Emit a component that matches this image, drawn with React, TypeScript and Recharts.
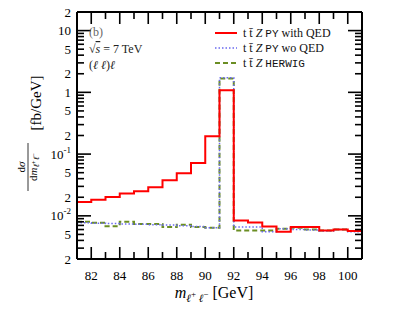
import { LineChart, Line, XAxis, YAxis } from "recharts";

// bin low edges in GeV (1 GeV wide bins, last bin ends at 101)
const binEdges = [81, 82, 83, 84, 85, 86, 87, 88, 89, 90, 91, 92, 93, 94, 95, 96, 97, 98, 99, 100];
const lastEdge = 101;

// d sigma / d m [fb/GeV]
const pyWithQed = [0.0168, 0.0183, 0.0202, 0.0229, 0.025, 0.029, 0.0376, 0.0488, 0.0715, 0.195, 1.08, 0.0084, 0.0078, 0.0067, 0.0055, 0.0066, 0.0066, 0.0058, 0.006, 0.0057];
const pyWoQed = [0.0077, 0.0076, 0.0075, 0.0074, 0.0073, 0.0072, 0.0071, 0.0069, 0.0067, 0.0064, 1.72, 0.0066, 0.0066, 0.0055, 0.0062, 0.006, 0.0059, 0.0057, 0.006, 0.0055];
const herwig = [0.008, 0.0077, 0.0068, 0.008, 0.0074, 0.0074, 0.0066, 0.0072, 0.0066, 0.0064, 1.68, 0.0058, 0.0058, 0.0058, 0.0062, 0.0064, 0.006, 0.0058, 0.006, 0.0057];

const xTicks = [81, 82, 83, 84, 85, 86, 87, 88, 89, 90, 91, 92, 93, 94, 95, 96, 97, 98, 99, 100, 101];
const xLabelTicks = [82, 84, 86, 88, 90, 92, 94, 96, 98, 100];

const yTicks = [
  0.002, 0.003, 0.004, 0.005, 0.006, 0.007, 0.008, 0.009,
  0.01, 0.02, 0.03, 0.04, 0.05, 0.06, 0.07, 0.08, 0.09,
  0.1, 0.2, 0.3, 0.4, 0.5, 0.6, 0.7, 0.8, 0.9,
  1, 2, 3, 4, 5, 6, 7, 8, 9, 10, 20,
];
const yDecades = [0.01, 0.1, 1, 10];
const yLabelValues = [0.002, 0.005, 0.01, 0.02, 0.05, 0.1, 0.2, 0.5, 1, 2, 5, 10, 20];
const yLabelBase = ["2", "5", "10", "2", "5", "10", "2", "5", "1", "2", "5", "10", "2"];
const yLabelExp = ["", "", "-2", "", "", "-1", "", "", "", "", "", "", ""];

const W = 409;
const H = 309;
const serif = "'Liberation Serif', 'Times New Roman', Times, serif";
const mono = "'Liberation Mono', 'DejaVu Sans Mono', monospace";

const data = binEdges
  .map((m, i) => ({ m, withQed: pyWithQed[i], woQed: pyWoQed[i], hw: herwig[i] }))
  .concat([{
    m: lastEdge,
    withQed: pyWithQed[pyWithQed.length - 1],
    woQed: pyWoQed[pyWoQed.length - 1],
    hw: herwig[herwig.length - 1],
  }]);

const near = (a: number, b: number) => Math.abs(a - b) / b < 1e-6;

function XTick(props: any) {
  const { x, y, payload, top } = props;
  const v = payload.value;
  const len = v % 2 === 0 ? 12 : 7;
  const dir = top ? 1 : -1;
  const labeled = !top && xLabelTicks.includes(v);
  return (
    <g>
      <line x1={x} y1={y} x2={x} y2={y + dir * len} stroke="#000" strokeWidth={1.6} />
      {labeled && (
        <text x={x} y={y + 21} textAnchor="middle" fontFamily={serif} fontSize={13} fill="#000">
          {v}
        </text>
      )}
    </g>
  );
}

function YTick(props: any) {
  const { x, y, payload, right } = props;
  const v = payload.value;
  const len = yDecades.some((d) => near(v, d)) ? 14 : 7;
  const dir = right ? -1 : 1;
  const li = yLabelValues.findIndex((d) => near(v, d));
  return (
    <g>
      <line x1={x} y1={y} x2={x + dir * len} y2={y} stroke="#000" strokeWidth={1.6} />
      {!right && li >= 0 && (
        <text x={x - 6} y={y + 4.5} textAnchor="end" fontFamily={serif} fontSize={13} fill="#000">
          {yLabelBase[li]}
          {yLabelExp[li] && (
            <tspan fontSize={9} dy={-6}>
              {yLabelExp[li]}
            </tspan>
          )}
        </text>
      )}
    </g>
  );
}

function Overlay() {
  return (
    <svg
      width={W}
      height={H}
      style={{ position: "absolute", left: 0, top: 0, pointerEvents: "none" }}
    >
      {/* top-left notes */}
      <text x={89} y={36} fontFamily={serif} fontSize={12} fill="#666">(b)</text>
      <text x={89} y={53} fontFamily={serif} fontSize={12} fill="#222">
        √<tspan fontStyle="italic" textDecoration="overline">s</tspan> = 7 TeV
      </text>
      <text x={89} y={69} fontFamily={serif} fontSize={12} fill="#222">
        (<tspan fontStyle="italic">ℓ ℓ</tspan>)<tspan fontStyle="italic">ℓ</tspan>
      </text>

      {/* legend */}
      <line x1={215} y1={33} x2={237} y2={33} stroke="#ff0000" strokeWidth={2} />
      <text x={243} y={37} fontFamily={serif} fontSize={12} fill="#111">
        t t̄ <tspan fontStyle="italic">Z</tspan> <tspan fontFamily={mono} fontSize={11}>PY</tspan> with QED
      </text>
      <line x1={215} y1={48} x2={237} y2={48} stroke="#6a6af0" strokeWidth={1.5} strokeDasharray="1.5 2" />
      <text x={243} y={52} fontFamily={serif} fontSize={12} fill="#111">
        t t̄ <tspan fontStyle="italic">Z</tspan> <tspan fontFamily={mono} fontSize={11}>PY</tspan> wo QED
      </text>
      <line x1={215} y1={63} x2={237} y2={63} stroke="#6b8e23" strokeWidth={2} strokeDasharray="5 3" />
      <text x={243} y={67} fontFamily={serif} fontSize={12} fill="#111">
        t t̄ <tspan fontStyle="italic">Z</tspan> <tspan fontFamily={mono} fontSize={11}>HERWIG</tspan>
      </text>

      {/* x title */}
      <text x={214} y={298} textAnchor="middle" fontFamily={serif} fontSize={16} fill="#000">
        <tspan fontStyle="italic">m</tspan>
        <tspan fontSize={11} dy={4} fontStyle="italic">ℓ</tspan>
        <tspan fontSize={9} dy={-5}>+</tspan>
        <tspan fontSize={11} dy={5} fontStyle="italic"> ℓ</tspan>
        <tspan fontSize={9} dy={-5}>−</tspan>
        <tspan dy={1}> [GeV]</tspan>
      </text>

      {/* y title */}
      <g transform="translate(28,167) rotate(-90)">
        <line x1={-24} y1={0} x2={24} y2={0} stroke="#000" strokeWidth={0.8} />
        <text x={0} y={-3} textAnchor="middle" fontFamily={serif} fontSize={11} fill="#000">
          d<tspan fontStyle="italic">σ</tspan>
        </text>
        <text x={0} y={9} textAnchor="middle" fontFamily={serif} fontSize={11} fill="#000">
          d<tspan fontStyle="italic">m</tspan>
          <tspan fontSize={8} dy={2} fontStyle="italic">ℓ</tspan>
          <tspan fontSize={7} dy={-3}>+</tspan>
          <tspan fontSize={8} dy={3} fontStyle="italic">ℓ</tspan>
          <tspan fontSize={7} dy={-3}>−</tspan>
        </text>
      </g>
      <text
        x={0}
        y={0}
        transform="translate(41,103) rotate(-90)"
        textAnchor="middle"
        fontFamily={serif}
        fontSize={15}
        fill="#000"
      >
        [fb/GeV]
      </text>
    </svg>
  );
}

export default function App() {
  return (
    <div style={{ position: "absolute", left: 0, top: 0, width: W, height: H, background: "#fff" }}>
      <LineChart width={W} height={H} data={data} margin={{ top: 0, right: 0, bottom: 0, left: 0 }}>
        <XAxis
          xAxisId="bottom"
          dataKey="m"
          type="number"
          domain={[81, 101]}
          allowDataOverflow
          ticks={xTicks}
          interval={0}
          height={50}
          tickSize={0}
          tickMargin={0}
          axisLine={{ stroke: "#000", strokeWidth: 2 }}
          tickLine={false}
          tick={(p: any) => <XTick {...p} />}
        />
        <XAxis
          xAxisId="top"
          orientation="top"
          dataKey="m"
          type="number"
          domain={[81, 101]}
          allowDataOverflow
          ticks={xTicks}
          interval={0}
          height={12}
          tickSize={0}
          tickMargin={0}
          axisLine={{ stroke: "#000", strokeWidth: 2 }}
          tickLine={false}
          tick={(p: any) => <XTick {...p} top />}
        />
        <YAxis
          yAxisId="left"
          type="number"
          scale="log"
          domain={[0.002, 20]}
          allowDataOverflow
          ticks={yTicks}
          interval={0}
          width={77}
          tickSize={0}
          tickMargin={0}
          axisLine={{ stroke: "#000", strokeWidth: 2 }}
          tickLine={false}
          tick={(p: any) => <YTick {...p} />}
        />
        <YAxis
          yAxisId="right"
          orientation="right"
          type="number"
          scale="log"
          domain={[0.002, 20]}
          allowDataOverflow
          ticks={yTicks}
          interval={0}
          width={47}
          tickSize={0}
          tickMargin={0}
          axisLine={{ stroke: "#000", strokeWidth: 2 }}
          tickLine={false}
          tick={(p: any) => <YTick {...p} right />}
        />
        <Line
          xAxisId="bottom"
          yAxisId="left"
          type="stepAfter"
          dataKey="hw"
          stroke="#6b8e23"
          strokeWidth={2}
          strokeDasharray="5 3"
          dot={false}
          activeDot={false}
          isAnimationActive={false}
        />
        <Line
          xAxisId="bottom"
          yAxisId="left"
          type="stepAfter"
          dataKey="woQed"
          stroke="#6a6af0"
          strokeWidth={1.5}
          strokeDasharray="1.5 2"
          dot={false}
          activeDot={false}
          isAnimationActive={false}
        />
        <Line
          xAxisId="bottom"
          yAxisId="left"
          type="stepAfter"
          dataKey="withQed"
          stroke="#ff0000"
          strokeWidth={2}
          dot={false}
          activeDot={false}
          isAnimationActive={false}
        />
      </LineChart>
      <Overlay />
    </div>
  );
}
